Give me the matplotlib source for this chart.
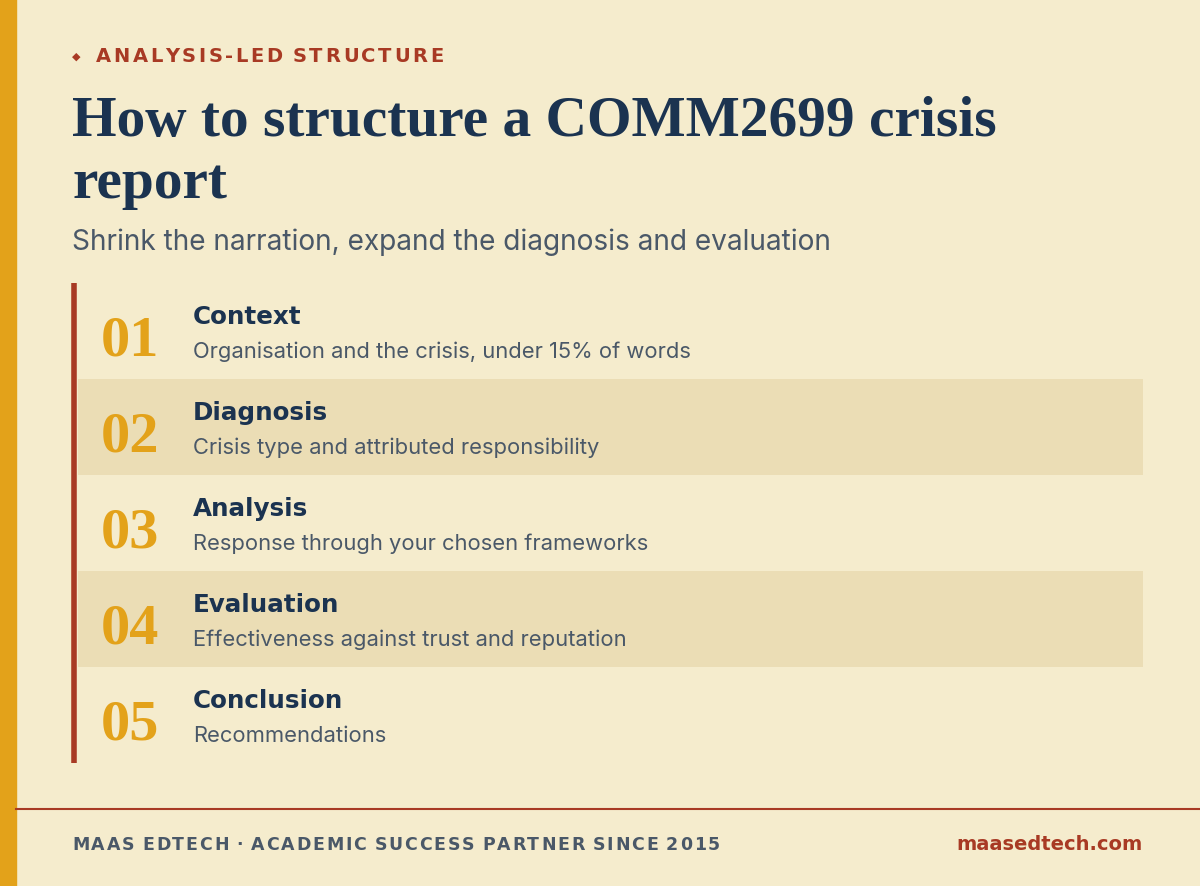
import matplotlib
matplotlib.use("Agg")
import matplotlib.pyplot as plt
from matplotlib.patches import Rectangle

BG = "#F5ECCD"
GOLD = "#E3A21A"
RED = "#A83A24"
NAVY = "#1B3350"
GRAY = "#4A5868"
BAND = "#EBDDB5"

numbers = ["01", "02", "03", "04", "05"]
steps = ["Context", "Diagnosis", "Analysis", "Evaluation", "Conclusion"]
descriptions = [
    "Organisation and the crisis, under 15% of words",
    "Crisis type and attributed responsibility",
    "Response through your chosen frameworks",
    "Effectiveness against trust and reputation",
    "Recommendations",
]
shaded = [False, True, False, True, False]

fig = plt.figure(figsize=(12, 8.87), dpi=100)
fig.patch.set_facecolor(BG)
ax = fig.add_axes([0, 0, 1, 1])
ax.set_xlim(0, 1200)
ax.set_ylim(887, 0)
ax.axis("off")
renderer = fig.canvas.get_renderer()


def tracked(x, y, s, spacing, **kw):
    # draw text one char at a time to get letter spacing
    for c in s:
        t = ax.text(x, y, c, **kw)
        w = t.get_window_extent(renderer).width
        if c == " ":
            w = kw.get("fontsize", 12) * 0.35
        x += w + spacing


ax.add_patch(Rectangle((0, 0), 16, 887, color=GOLD))

ax.text(72, 57, "◆", color=RED, fontsize=8, va="center", family="DejaVu Sans")
tracked(96, 57, "ANALYSIS-LED STRUCTURE", 2.6, color=RED, fontsize=14,
        fontweight="bold", va="center", family="DejaVu Sans")

ax.text(72, 122, "How to structure a COMM2699 crisis", color=NAVY, fontsize=41.3,
        fontweight="bold", va="center", family="Liberation Serif")
ax.text(72, 184, "report", color=NAVY, fontsize=41.3, fontweight="bold",
        va="center", family="Liberation Serif")
ax.text(72, 242, "Shrink the narration, expand the diagnosis and evaluation",
        color=GRAY, fontsize=20.2, va="center", family="Inter")

top, h = 284, 96
for i, (n, s, d) in enumerate(zip(numbers, steps, descriptions)):
    y0 = top + i * h
    if shaded[i]:
        ax.add_patch(Rectangle((78, y0), 1065, h, color=BAND, lw=0))
    ax.text(101, y0 + 58, n, color=GOLD, fontsize=42, fontweight="bold",
            va="center", family="Liberation Serif")
    ax.text(193, y0 + 33, s, color=NAVY, fontsize=17.7, fontweight="bold",
            va="center", family="DejaVu Sans")
    ax.text(193, y0 + 68, d, color=GRAY, fontsize=15.8, va="center", family="Inter")

ax.plot([74, 74], [top, top + 5 * h], color=RED, lw=4, solid_capstyle="butt")

ax.plot([16, 1200], [810, 810], color=RED, lw=1.5)
tracked(72, 845, "MAAS EDTECH · ACADEMIC SUCCESS PARTNER SINCE 2015", 1.8,
        color=GRAY, fontsize=12.5, fontweight="bold", va="center", family="DejaVu Sans")
ax.text(1143, 845, "maasedtech.com", color=RED, fontsize=14, fontweight="bold",
        va="center", ha="right", family="DejaVu Sans")

fig.savefig("out.png", dpi=100, facecolor=BG)
